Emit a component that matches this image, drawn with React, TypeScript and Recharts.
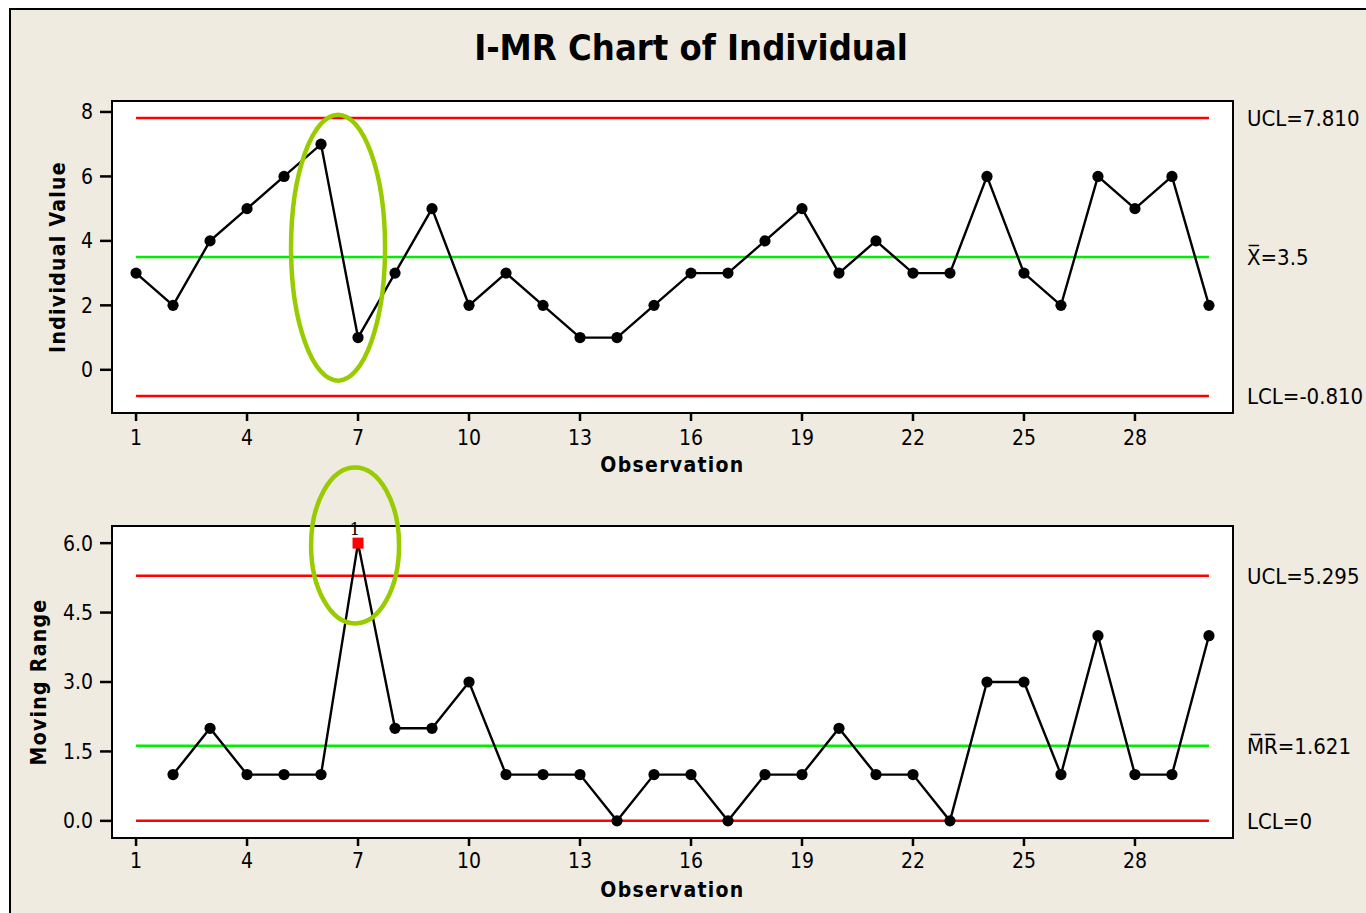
import React from 'react'
import {
  LineChart,
  Line,
  XAxis,
  YAxis,
  ReferenceLine,
  ReferenceArea,
  ReferenceDot,
} from 'recharts'

const OBSERVATIONS = [1, 2, 3, 4, 5, 6, 7, 8, 9, 10, 11, 12, 13, 14, 15, 16, 17, 18, 19, 20, 21, 22, 23, 24, 25, 26, 27, 28, 29, 30]
const INDIVIDUAL = [3, 2, 4, 5, 6, 7, 1, 3, 5, 2, 3, 2, 1, 1, 2, 3, 3, 4, 5, 3, 4, 3, 3, 6, 3, 2, 6, 5, 6, 2]
const MOVING_RANGE = [null, 1, 2, 1, 1, 1, 6, 2, 2, 3, 1, 1, 1, 0, 1, 1, 0, 1, 1, 2, 1, 1, 0, 3, 3, 1, 4, 1, 1, 4]

const I_LIMITS = { ucl: 7.81, mean: 3.5, lcl: -0.81 }
const MR_LIMITS = { ucl: 5.295, mean: 1.621, lcl: 0 }

const X_TICKS = [1, 4, 7, 10, 13, 16, 19, 22, 25, 28]
const I_TICKS = [0, 2, 4, 6, 8]
const MR_TICKS = [0, 1.5, 3, 4.5, 6]

const X_DOMAIN: [number, number] = [0.35, 30.65]
const I_DOMAIN: [number, number] = [-1.34, 8.34]
const MR_DOMAIN: [number, number] = [-0.37, 6.37]

// green hand-drawn circles around the out-of-control shift
const I_MARK = { x: 6.46, y: 3.79 }
const MR_MARK = { x: 6.92, y: 5.95 }

const FONT = "'DejaVu Sans Condensed', 'DejaVu Sans', Tahoma, sans-serif"
const TICK = { fill: '#000', fontSize: 21, fontFamily: FONT }
const TITLE_STYLE = { fontFamily: FONT, fontWeight: 700, fontSize: 21, letterSpacing: 1.3, fill: '#000' }

const iData = OBSERVATIONS.map((obs, i) => ({ obs, value: INDIVIDUAL[i] }))
const mrData = OBSERVATIONS.map((obs, i) => ({ obs, value: MOVING_RANGE[i] }))

function LimitLabel({ viewBox, text }: any) {
  const x = viewBox.x + viewBox.width + 38
  const y = viewBox.y + viewBox.height / 2
  return (
    <text x={x} y={y} dy="0.36em" fontSize={22} fontFamily={FONT} fill="#000">
      {text}
    </text>
  )
}

function makeDot(ucl: number, lcl: number) {
  return (props: any) => {
    const { cx, cy, index, payload } = props
    const v = payload?.value
    if (v == null || cx == null || cy == null) return <g key={index} />
    if (v > ucl || v < lcl) {
      return (
        <g key={index}>
          <rect x={cx - 5.5} y={cy - 5.5} width={11} height={11} fill="#ff0000" />
          <text x={cx - 3} y={cy - 8} textAnchor="middle" fontSize={17} fontFamily="'DejaVu Serif', serif" fill="#000">
            1
          </text>
        </g>
      )
    }
    return <circle key={index} cx={cx} cy={cy} r={5.6} fill="#000" />
  }
}

function ellipse(rx: number, ry: number) {
  return (p: any) => (
    <ellipse cx={p.cx} cy={p.cy} rx={rx} ry={ry} fill="none" stroke="#99cc00" strokeWidth={4.5} />
  )
}

interface PanelProps {
  data: { obs: number; value: number | null }[]
  height: number
  top: number
  marginTop: number
  marginBottom: number
  yDomain: [number, number]
  yTicks: number[]
  yFormat: (v: number) => string
  yTitle: string
  yTitleOffset: number
  xTickMargin: number
  limits: { ucl: number; mean: number; lcl: number }
  labels: [string, string, string]
  mark: { x: number; y: number }
  markSize: [number, number]
}

function Panel(p: PanelProps) {
  const first = OBSERVATIONS[0]
  const last = OBSERVATIONS[OBSERVATIONS.length - 1]
  const seg = (y: number) => [{ x: first, y }, { x: last, y }] as any
  return (
    <div style={{ position: 'absolute', left: 0, top: p.top }}>
      <LineChart
        width={1366}
        height={p.height}
        data={p.data}
        margin={{ top: p.marginTop, right: 133, bottom: p.marginBottom, left: 12 }}
      >
        <ReferenceArea
          x1={X_DOMAIN[0]}
          x2={X_DOMAIN[1]}
          y1={p.yDomain[0]}
          y2={p.yDomain[1]}
          fill="#fff"
          fillOpacity={1}
          stroke="#000"
          strokeWidth={2}
        />
        <XAxis
          dataKey="obs"
          type="number"
          domain={X_DOMAIN}
          ticks={X_TICKS}
          height={60}
          axisLine={false}
          tickLine={{ stroke: '#000', strokeWidth: 2.5 }}
          tickSize={8}
          tickMargin={p.xTickMargin}
          tick={TICK}
          label={{ value: 'Observation', position: 'insideBottom', offset: 1, ...TITLE_STYLE }}
        />
        <YAxis
          type="number"
          domain={p.yDomain}
          ticks={p.yTicks}
          width={100}
          axisLine={false}
          tickLine={{ stroke: '#000', strokeWidth: 2.5 }}
          tickSize={12}
          tickMargin={7}
          tick={TICK}
          tickFormatter={p.yFormat}
          label={{
            value: p.yTitle,
            angle: -90,
            position: 'insideLeft',
            offset: p.yTitleOffset,
            ...TITLE_STYLE,
            style: { textAnchor: 'middle' },
          }}
        />
        <ReferenceLine segment={seg(p.limits.ucl)} stroke="#ff0000" strokeWidth={2.5} label={<LimitLabel text={p.labels[0]} />} />
        <ReferenceLine segment={seg(p.limits.mean)} stroke="#00ee00" strokeWidth={2.5} label={<LimitLabel text={p.labels[1]} />} />
        <ReferenceLine segment={seg(p.limits.lcl)} stroke="#ff0000" strokeWidth={2.5} label={<LimitLabel text={p.labels[2]} />} />
        <Line
          type="linear"
          dataKey="value"
          stroke="#000"
          strokeWidth={2.4}
          dot={makeDot(p.limits.ucl, p.limits.lcl)}
          activeDot={false}
          connectNulls={false}
          isAnimationActive={false}
        />
        <ReferenceDot
          x={p.mark.x}
          y={p.mark.y}
          r={1}
          ifOverflow="visible"
          shape={ellipse(p.markSize[0], p.markSize[1])}
        />
      </LineChart>
    </div>
  )
}

export default function App() {
  return (
    <div
      style={{
        position: 'absolute',
        left: 0,
        top: 0,
        width: 1366,
        height: 913,
        overflow: 'hidden',
        background: '#fff',
      }}
    >
      <div
        style={{
          position: 'absolute',
          left: 9,
          top: 8,
          width: 1400,
          height: 1000,
          background: '#efebe0',
          borderLeft: '2.5px solid #000',
          borderTop: '2.5px solid #000',
        }}
      />
      <div
        style={{
          position: 'absolute',
          left: 291,
          top: 29,
          width: 800,
          textAlign: 'center',
          fontFamily: FONT,
          fontWeight: 700,
          fontSize: 36,
          lineHeight: '38px',
          color: '#000',
        }}
      >
        I-MR Chart of Individual
      </div>
      <Panel
        data={iData}
        height={480}
        top={0}
        marginTop={101}
        marginBottom={7}
        yDomain={I_DOMAIN}
        yTicks={I_TICKS}
        yFormat={(v) => String(v)}
        yTitle="Individual Value"
        yTitleOffset={46}
        xTickMargin={9}
        limits={I_LIMITS}
        labels={['UCL=7.810', 'X\u0305=3.5', 'LCL=-0.810']}
        mark={I_MARK}
        markSize={[47, 133]}
      />
      <Panel
        data={mrData}
        height={473}
        top={440}
        marginTop={86}
        marginBottom={15}
        yDomain={MR_DOMAIN}
        yTicks={MR_TICKS}
        yFormat={(v) => v.toFixed(1)}
        yTitle="Moving Range"
        yTitleOffset={27}
        xTickMargin={7}
        limits={MR_LIMITS}
        labels={['UCL=5.295', 'M\u0305R\u0305=1.621', 'LCL=0']}
        mark={MR_MARK}
        markSize={[44, 78]}
      />
    </div>
  )
}
